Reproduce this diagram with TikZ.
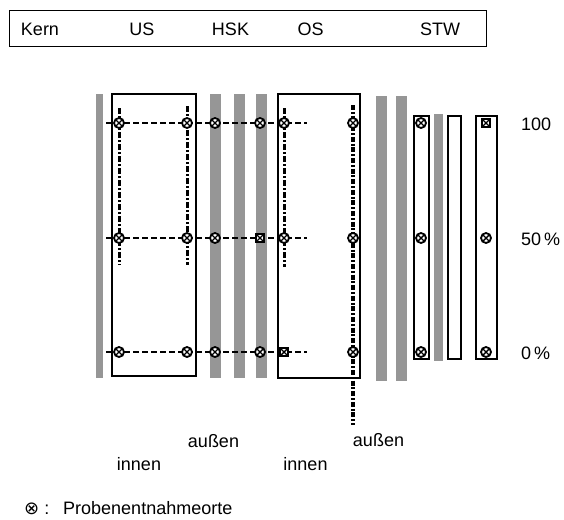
\documentclass[tikz,border=0pt]{standalone}
\usepackage{fontspec}
\setmainfont{Liberation Sans}
\newfontfamily\symfont{DejaVu Sans}
\begin{document}
\begin{tikzpicture}[x=1pt,y=-1pt,
  bar/.style={fill={rgb,255:red,150;green,150;blue,150},draw=none},
  frame/.style={draw=black,line width=1.4pt},
  hdash/.style={line width=2.3pt,dash pattern=on 6pt off 3pt},
  vdash/.style={line width=3pt,dash pattern=on 6pt off 2pt on 2pt off 2pt},
  vdashb/.style={line width=3.2pt,dash pattern=on 5pt off 1.8pt on 2pt off 1.8pt},
  ox/.style={circle,draw,fill=white,line width=1.8pt,minimum size=10pt,inner sep=0pt,
    path picture={\draw[line width=1.4pt] (path picture bounding box.north west)--(path picture bounding box.south east)
      (path picture bounding box.north east)--(path picture bounding box.south west);}},
  sx/.style={rectangle,draw,fill=white,line width=1.8pt,minimum size=8.5pt,inner sep=0pt,
    path picture={\draw[line width=1.4pt] (path picture bounding box.north west)--(path picture bounding box.south east)
      (path picture bounding box.north east)--(path picture bounding box.south west);}},
  lbl/.style={font=\fontsize{18}{20}\selectfont,inner sep=0pt,anchor=base}
]
\useasboundingbox (0,0) rectangle (564,519);
% header
\draw[line width=1.4pt] (9.5,10.5) rectangle (486.5,46.5);
\node[lbl] (kern) at (40,36) {Kern};
\node[lbl] (us) at (142,36) {US};
\node[lbl] (hsk) at (230.5,36) {HSK};
\node[lbl] (os) at (310.5,36) {OS};
\node[lbl] (stw) at (440,36) {STW};
% gray bars
\fill[bar] (96,94) rectangle (103,378);
\fill[bar] (210,94) rectangle (221,378);
\fill[bar] (234,94) rectangle (245,378);
\fill[bar] (256,94) rectangle (267,378);
\fill[bar] (376,96) rectangle (387,381);
\fill[bar] (396,96) rectangle (407,381);
\fill[bar] (434,114) rectangle (443,361);
% boxes
\draw[frame] (112,94) rectangle (196,376);
\draw[frame] (278,94) rectangle (360,378);
\draw[frame] (414,116) rectangle (429,359);
\draw[frame] (448,116) rectangle (461,359);
\draw[frame] (476,116) rectangle (497,359);
% horizontal dashed lines
\foreach \y in {123,238,352} \draw[hdash] (106,\y) -- (307,\y);
% vertical dash-dot lines
\draw[vdash] (119,108) -- (119,265);
\draw[vdash] (187,106) -- (187,265);
\draw[vdash] (284,108) -- (284,267);
\draw[vdashb] (353,105) -- (353,425);
% markers
\foreach \x/\n in {119/a,187/b,215/c,260/d,284/e,353/f,421/g}
  \node[ox] (t\n) at (\x,123) {};
\node[sx] (th) at (486,123) {};
\foreach \x/\n in {119/a,187/b,215/c,284/e,353/f,421/g,486/h}
  \node[ox] (m\n) at (\x,238) {};
\node[sx] (md) at (260,238) {};
\foreach \x/\n in {119/a,187/b,215/c,260/d,353/f,421/g,486/h}
  \node[ox] (b\n) at (\x,352) {};
\node[sx] (be) at (284,352) {};
% right labels
\node[lbl,anchor=base west] (p100) at (521,130) {100};
\node[lbl,anchor=base west] (p50) at (521,245) {50\,\%};
\node[lbl,anchor=base west] (p0) at (521,359) {0\,\%};
% bottom labels
\node[lbl] (aussen1) at (213.5,447) {außen};
\node[lbl] (aussen2) at (378.5,446) {außen};
\node[lbl] (innen1) at (139,470) {innen};
\node[lbl] (innen2) at (305.5,470) {innen};
% legend
\node[lbl,anchor=base west] (sym) at (24,514) {{\symfont ⊗} :};
\node[lbl,anchor=base west] (legend) at (63,514) {Probenentnahmeorte};
\end{tikzpicture}
\end{document}
